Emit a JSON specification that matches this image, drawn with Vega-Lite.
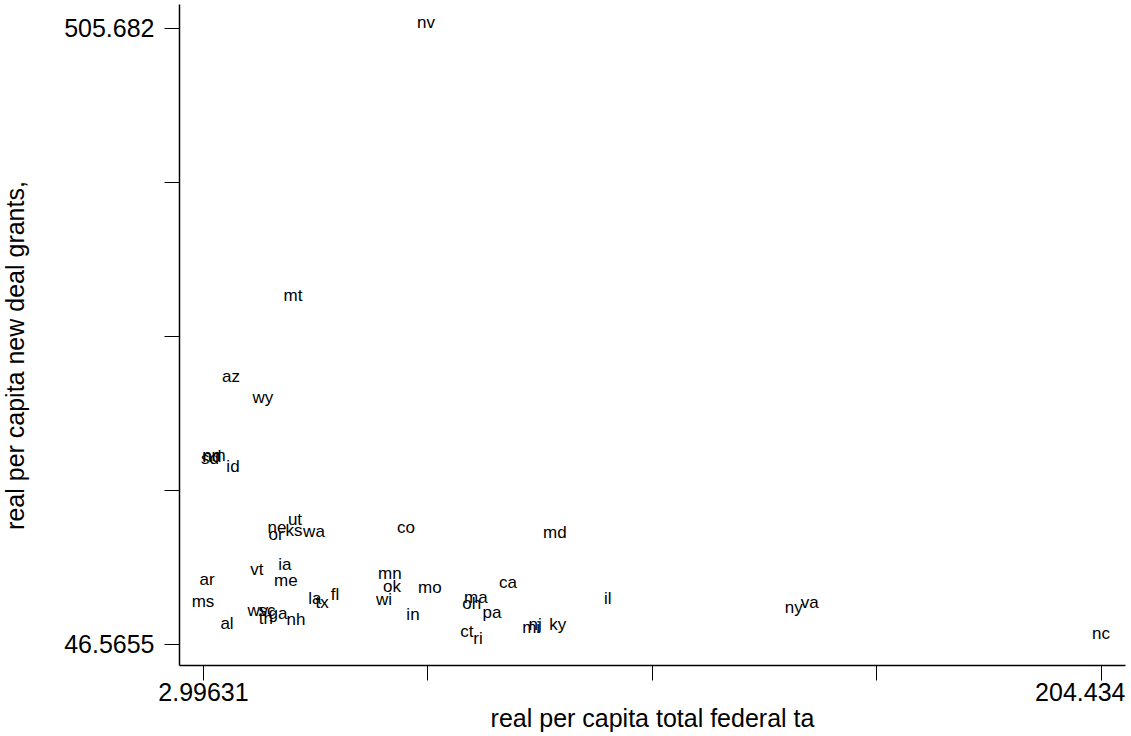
{
  "$schema": "https://vega.github.io/schema/vega-lite/v6.json",
  "width": 946,
  "height": 661,
  "autosize": {"type": "none"},
  "padding": {"left": 179, "top": 4, "right": 6, "bottom": 71},
  "background": "white",
  "config": {
    "view": {"stroke": null},
    "font": "Liberation Sans",
    "axis": {
      "grid": false,
      "domainColor": "black",
      "domainWidth": 1.5,
      "tickColor": "black",
      "tickWidth": 1,
      "tickSize": 15,
      "labelColor": "black",
      "labelFont": "Liberation Sans",
      "labelFontSize": 25,
      "titleFont": "Liberation Sans",
      "titleFontSize": 25,
      "titleFontWeight": "normal",
      "titleColor": "black",
      "labelOverlap": false,
      "labelFlush": false
    }
  },
  "data": {
    "values": [
      {"st": "nv", "tax": 53.01, "grant": 505.682},
      {"st": "mt", "tax": 23.18, "grant": 302.2},
      {"st": "az", "tax": 9.28, "grant": 241.8},
      {"st": "wy", "tax": 16.45, "grant": 226.2},
      {"st": "nd", "tax": 5.0, "grant": 182.2},
      {"st": "sd", "tax": 4.57, "grant": 180.7},
      {"st": "nm", "tax": 5.46, "grant": 183.0},
      {"st": "id", "tax": 9.72, "grant": 174.8},
      {"st": "ut", "tax": 23.63, "grant": 135.3},
      {"st": "ne", "tax": 19.59, "grant": 129.3},
      {"st": "or", "tax": 19.37, "grant": 124.1},
      {"st": "ks", "tax": 23.4, "grant": 127.1},
      {"st": "wa", "tax": 27.89, "grant": 126.3},
      {"st": "co", "tax": 48.52, "grant": 129.3},
      {"st": "md", "tax": 81.94, "grant": 125.6},
      {"st": "vt", "tax": 15.1, "grant": 98.0},
      {"st": "ia", "tax": 21.38, "grant": 101.7},
      {"st": "me", "tax": 21.6, "grant": 89.8},
      {"st": "ar", "tax": 3.9, "grant": 90.5},
      {"st": "mn", "tax": 44.9, "grant": 95.0},
      {"st": "ok", "tax": 45.4, "grant": 85.3},
      {"st": "mo", "tax": 53.9, "grant": 84.6},
      {"st": "ca", "tax": 71.4, "grant": 88.3},
      {"st": "ms", "tax": 2.99631, "grant": 74.1},
      {"st": "la", "tax": 28.1, "grant": 76.4},
      {"st": "tx", "tax": 29.7, "grant": 73.4},
      {"st": "fl", "tax": 32.6, "grant": 79.4},
      {"st": "wi", "tax": 43.6, "grant": 75.6},
      {"st": "ma", "tax": 64.2, "grant": 77.1},
      {"st": "oh", "tax": 63.3, "grant": 72.6},
      {"st": "pa", "tax": 67.8, "grant": 65.9},
      {"st": "il", "tax": 93.8, "grant": 76.4},
      {"st": "ny", "tax": 135.5, "grant": 69.7},
      {"st": "va", "tax": 139.1, "grant": 73.4},
      {"st": "wv", "tax": 15.3, "grant": 67.4},
      {"st": "sc", "tax": 17.35, "grant": 67.4},
      {"st": "ga", "tax": 19.8, "grant": 65.2},
      {"st": "tn", "tax": 17.1, "grant": 61.5},
      {"st": "nh", "tax": 23.85, "grant": 60.7},
      {"st": "al", "tax": 8.38, "grant": 57.8},
      {"st": "in", "tax": 50.1, "grant": 64.5},
      {"st": "ct", "tax": 62.2, "grant": 51.8},
      {"st": "ri", "tax": 64.7, "grant": 46.5655},
      {"st": "nj", "tax": 77.5, "grant": 57.0},
      {"st": "mi", "tax": 76.6, "grant": 54.8},
      {"st": "ky", "tax": 82.6, "grant": 57.0},
      {"st": "nc", "tax": 204.434, "grant": 50.3}
    ]
  },
  "mark": {"type": "text", "align": "center", "baseline": "alphabetic", "fontSize": 17, "font": "Liberation Sans", "color": "black"},
  "encoding": {
    "text": {"field": "st", "type": "nominal"},
    "x": {
      "field": "tax",
      "type": "quantitative",
      "scale": {"domain": [-2.387, 209.82], "nice": false, "zero": false},
      "axis": {
        "title": "real per capita total federal ta",
        "values": [2.99631, 53.35573, 103.71515, 154.07457, 204.434],
        "labelExpr": "datum.value < 3 ? '2.99631' : (datum.value > 204 ? '204.434' : '')",
        "labelPadding": 0,
        "labelAlign": {"condition": {"test": "datum.value > 204", "value": "right"}, "value": "center"},
        "labelOffset": {"condition": {"test": "datum.value > 204", "value": 24}, "value": 0},
        "titleBaseline": "middle",
        "titleAlign": "center",
        "titleX": 473,
        "titleY": 53
      }
    },
    "y": {
      "field": "grant",
      "type": "quantitative",
      "scale": {"domain": [30.92, 523.57], "nice": false, "zero": false},
      "axis": {
        "title": "real per capita new deal grants,",
        "values": [46.5655, 161.3446, 276.1238, 390.9029, 505.682],
        "labelExpr": "datum.value < 47 ? '46.5655' : (datum.value > 505 ? '505.682' : '')",
        "labelPadding": 10,
        "titleAngle": -90,
        "titleBaseline": "middle",
        "titleAlign": "center",
        "titleX": -164,
        "titleY": 351
      }
    }
  }
}
